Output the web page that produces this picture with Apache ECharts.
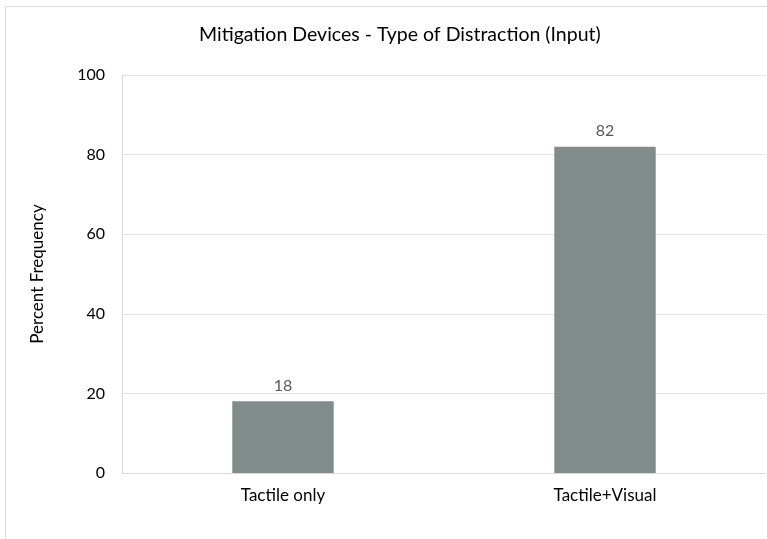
<!DOCTYPE html>
<html>
<head>
<meta charset="utf-8">
<script src="https://cdn.jsdelivr.net/npm/echarts@6/dist/echarts.min.js"></script>
<style>
html,body{margin:0;padding:0;background:#fff;}
#chart{width:767px;height:539px;}
</style>
</head>
<body>
<div id="chart"></div>
<script>
const titleText = "Mitigation Devices - Type of Distraction (Input)";
const categories = ["Tactile only", "Tactile+Visual"];
const values = [18, 82];
const yTicks = [0, 20, 40, 60, 80, 100];

const chart = echarts.init(document.getElementById('chart'));
const font = "Lato, 'Open Sans', sans-serif";
chart.setOption({
  animation: false,
  backgroundColor: '#ffffff',
  graphic: [{
    type: 'rect',
    shape: {x: 5.5, y: 6.5, width: 900, height: 700},
    style: {fill: 'none', stroke: '#d9d9d9', lineWidth: 1},
    silent: true
  }],
  title: {
    text: titleText,
    left: 194,
    top: 20,
    textStyle: {fontFamily: font, fontSize: 19.5, fontWeight: 'normal', color: '#000'}
  },
  grid: {left: 122, right: 1, top: 75, bottom: 66, containLabel: false},
  xAxis: {
    type: 'category',
    data: categories,
    axisLine: {lineStyle: {color: '#d9d9d9'}},
    axisTick: {show: false},
    axisLabel: {color: '#000', fontFamily: font, fontSize: 17, margin: 14}
  },
  yAxis: {
    type: 'value',
    min: yTicks[0],
    max: yTicks[yTicks.length - 1],
    interval: yTicks[1] - yTicks[0],
    name: 'Percent Frequency',
    nameLocation: 'middle',
    nameGap: 76,
    nameTextStyle: {fontFamily: font, fontSize: 17, color: '#000'},
    axisLine: {show: true, lineStyle: {color: '#d9d9d9'}},
    axisTick: {show: false},
    axisLabel: {color: '#000', fontFamily: font, fontSize: 16, margin: 17},
    splitLine: {lineStyle: {color: '#e3e3e3'}}
  },
  series: [{
    type: 'bar',
    data: values,
    barWidth: '31.5%',
    itemStyle: {color: '#7f8c89'},
    label: {show: true, position: 'top', distance: 8, color: '#595959', fontFamily: font, fontSize: 16}
  }]
});
</script>
</body>
</html>
